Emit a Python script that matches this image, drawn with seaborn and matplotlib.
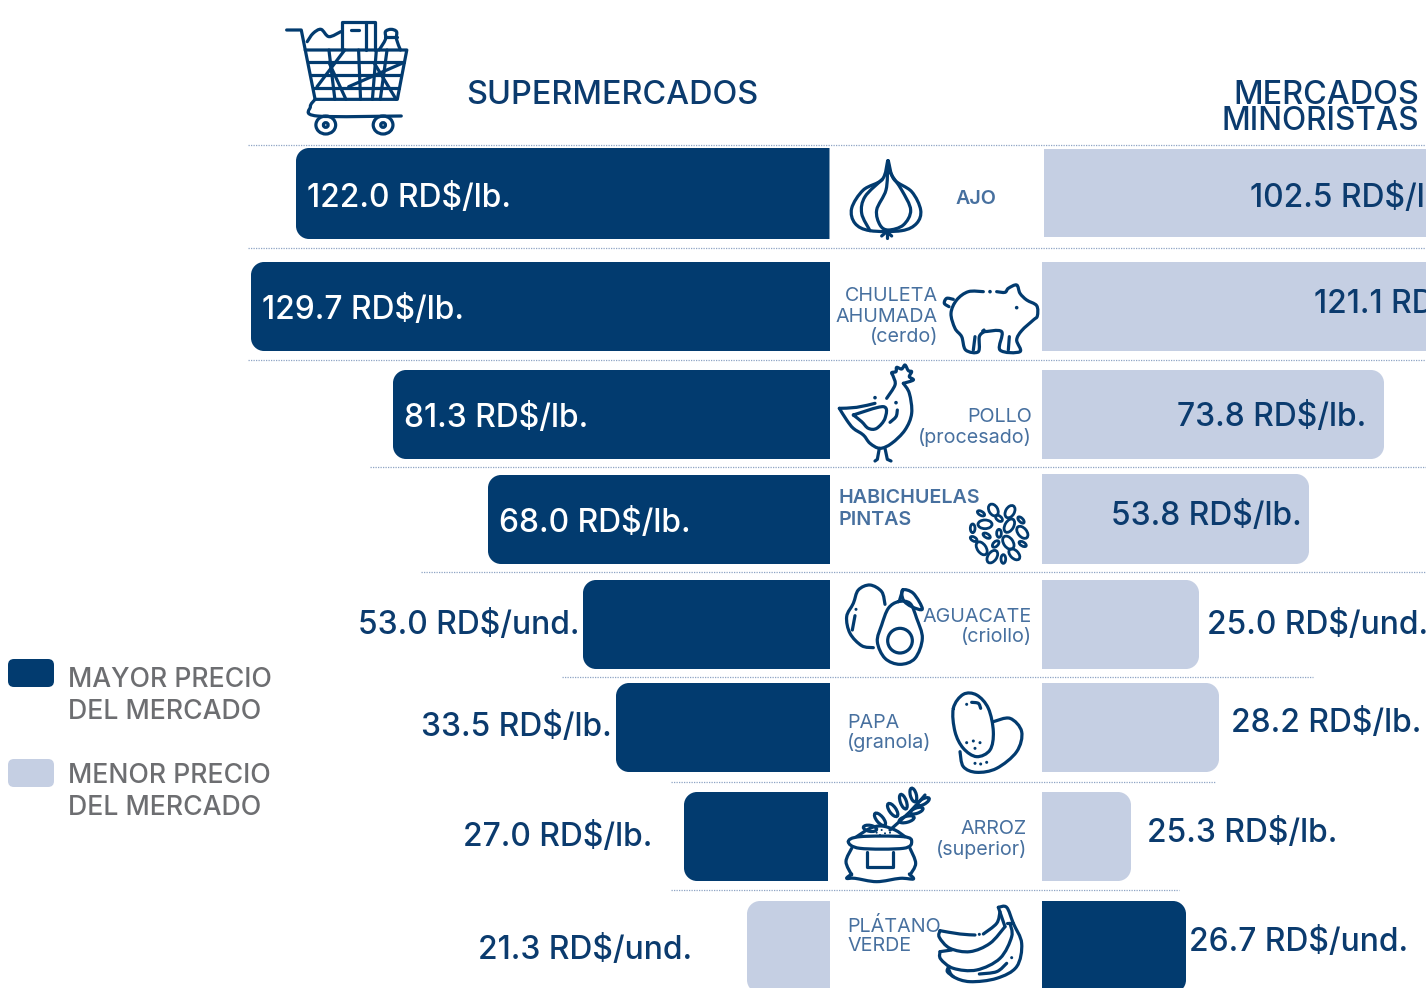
import numpy as np
import pandas as pd
import seaborn as sns
import matplotlib.pyplot as plt
from matplotlib.path import Path
from matplotlib.patches import PathPatch, Ellipse, Circle, FancyBboxPatch

# data
products = ['AJO', 'CHULETA AHUMADA', 'POLLO', 'HABICHUELAS PINTAS', 'AGUACATE', 'PAPA', 'ARROZ', 'PLATANO VERDE']
super_price = [122.0, 129.7, 81.3, 68.0, 53.0, 33.5, 27.0, 21.3]
retail_price = [102.5, 121.1, 73.8, 53.8, 25.0, 28.2, 25.3, 26.7]
units = ['lb', 'lb', 'lb', 'lb', 'und', 'lb', 'lb', 'und']
# the bars in the original are not to scale with the prices, so lengths are read separately
super_len = [534, 579, 437, 342, 247, 214, 146, 83]
retail_len = [440, 470, 342, 267, 157, 177, 89, 144]

DARK = '#023b6f'
LIGHT = '#c5cfe3'
TEXT = '#0b3b6e'
LABEL = '#47709f'
GRAY = '#6d6e71'
DOT = '#8ea4c4'
FONT = 'Inter'
LW = 2.3

sns.set_theme(style='white')
plt.rcParams['font.family'] = [FONT, 'DejaVu Sans']

W, H = 1426, 988
fig = plt.figure(figsize=(W / 100, H / 100), dpi=100, facecolor='white')
ax_l = fig.add_axes([0, 0, 830 / W, 1])
ax_r = fig.add_axes([1042 / W, 0, (W - 1042) / W, 1])
ov = fig.add_axes([0, 0, 1, 1], zorder=5)
ov.set_xlim(0, W)
ov.set_ylim(H, 0)
ov.axis('off')
ov.patch.set_alpha(0)

df = pd.DataFrame({'product': products, 'super': super_len, 'retail': retail_len,
                   'super_price': super_price, 'retail_price': retail_price})
super_cols = [DARK if s > r else LIGHT for s, r in zip(super_price, retail_price)]
retail_cols = [DARK if r > s else LIGHT for s, r in zip(super_price, retail_price)]
sns.barplot(data=df, x='super', y='product', hue='product', palette=super_cols, saturation=1, legend=False, ax=ax_l, orient='h')
sns.barplot(data=df, x='retail', y='product', hue='product', palette=retail_cols, saturation=1, legend=False, ax=ax_r, orient='h')

# row layout in pixels, the rows of the original are a bit uneven
row_top = [148, 262, 370, 475, 580, 683, 792, 901]
row_h = [91, 89, 89, 89, 89, 89, 89, 92]
retail_top = [149, 262, 370, 474, 580, 683, 792, 901]
retail_h = [88, 89, 89, 90, 89, 89, 89, 92]
left_shift = [0.5, 0, 0, 0, 0, 0, 2, 0]
right_shift = [2, 0, 0, 0, 0, 0, 0, 0]


def round_bar(ax, patch, top, h, shift, r=13):
    # swap the square bar for one with rounded far corners
    L = patch.get_width()
    k = 0.5523 * r
    verts = [(shift, top), (L - r, top), (L - r + k, top), (L, top + r - k), (L, top + r),
             (L, top + h - r), (L, top + h - r + k), (L - r + k, top + h), (L - r, top + h),
             (shift, top + h), (shift, top)]
    codes = [Path.MOVETO, Path.LINETO, Path.CURVE4, Path.CURVE4, Path.CURVE4, Path.LINETO,
             Path.CURVE4, Path.CURVE4, Path.CURVE4, Path.LINETO, Path.CLOSEPOLY]
    ax.add_patch(PathPatch(Path(verts, codes), fc=patch.get_facecolor(), ec='none'))
    patch.remove()


for ax, tops, hs, shifts, xl in [(ax_l, row_top, row_h, left_shift, (830, 0)),
                                 (ax_r, retail_top, retail_h, right_shift, (0, W - 1042))]:
    bars = sorted(list(ax.patches), key=lambda p: p.get_y())
    for p, t, h, s in zip(bars, tops, hs, shifts):
        round_bar(ax, p, t, h, s)
    ax.set_xlim(*xl)
    ax.set_ylim(H, 0)
    ax.axis('off')

# dotted separators
seps = [(145, 248, W), (248, 248, W), (360, 248, W), (467, 370, W), (572, 421, W),
        (677, 562, 1313), (782, 671, 1216), (890, 671, 1179)]
for y, x0, x1 in seps:
    ov.plot([x0, x1], [y, y], color=DOT, lw=0.9, ls=(0, (1, 1)))

# value labels
VAL = 22.9
sup_pos = [(307, 198), (262, 310), (404, 418), (499, 523), (358, 625), (421, 727), (463, 837), (478, 950)]
ret_pos = [(1250, 198), (1314, 304), (1177, 417), (1111, 516), (1207, 625), (1231, 723), (1147, 833), (1189, 942)]
for i in range(len(products)):
    x, y = sup_pos[i]
    col = 'white' if i < 4 else TEXT
    ov.text(x, y, f'{super_price[i]:.1f} RD$/{units[i]}.', color=col, fontsize=VAL, va='center', ha='left', weight=500)
    x, y = ret_pos[i]
    ov.text(x, y, f'{retail_price[i]:.1f} RD$/{units[i]}.', color=TEXT, fontsize=VAL, va='center', ha='left', weight=500, clip_on=True)

# headers
ov.text(466, 95, 'SUPERMERCADOS', color=TEXT, fontsize=23.3, va='center', weight=500)
ov.text(1419, 95, 'MERCADOS', color=TEXT, fontsize=23.3, va='center', ha='right', weight=500)
ov.text(1419, 122, 'MINORISTAS', color=TEXT, fontsize=22.7, va='center', ha='right', weight=500)

# legend
for y, c in [(659, DARK), (759, LIGHT)]:
    ov.add_patch(FancyBboxPatch((14, y + 6), 34, 16, boxstyle='round,pad=6', fc=c, ec='none'))
for y, s in [(680, 'MAYOR PRECIO'), (712, 'DEL MERCADO'), (776, 'MENOR PRECIO'), (808, 'DEL MERCADO')]:
    ov.text(68, y, s, color=GRAY, fontsize=19.2, va='center', weight=500)

# product names
names = [(956, 199, 'AJO', 'left', 600), (938, 296, 'CHULETA', 'right', 400), (938, 317, 'AHUMADA', 'right', 400),
         (938, 337, '(cerdo)', 'right', 400), (1032, 417, 'POLLO', 'right', 400), (1032, 437, '(procesado)', 'right', 400),
         (839, 498, 'HABICHUELAS', 'left', 600), (839, 520, 'PINTAS', 'left', 600), (1032, 617, 'AGUACATE', 'right', 400),
         (1032, 637, '(criollo)', 'right', 400), (847, 723, 'PAPA', 'left', 400), (847, 742, '(granola)', 'left', 400),
         (1027, 829, 'ARROZ', 'right', 400), (1027, 849, '(superior)', 'right', 400), (847, 926, 'PLÁTANO', 'left', 400),
         (847, 946, 'VERDE', 'left', 400)]
for x, y, s, ha, w in names:
    ov.text(x, y, s, color=LABEL, fontsize=14.2, va='center', ha=ha, weight=w)

# the cart crop is stretched unevenly, the other crops are a plain 3x
SX, SY = 2.53, 3


# icon helpers, points are read in the zoomed crops so they get scaled back
def curve(pts, ox, oy, closed=False, smooth=True):
    p = np.array(pts, dtype=float) / [SX, SY] + [ox, oy]
    if not smooth:
        path = Path(p)
    else:
        if closed:
            q = np.vstack([p[-1], p, p[0], p[1]])
        else:
            q = np.vstack([p[0], p, p[-1]])
        verts = [q[1]]
        codes = [Path.MOVETO]
        for i in range(1, len(q) - 2):
            verts += [q[i] + (q[i + 1] - q[i - 1]) / 6, q[i + 1] - (q[i + 2] - q[i]) / 6, q[i + 1]]
            codes += [Path.CURVE4] * 3
        path = Path(verts, codes)
    ov.add_patch(PathPatch(path, fc='none', ec=DARK, lw=LW, capstyle='round', joinstyle='round'))


def dots(pts, ox, oy, r=1.5):
    for x, y in pts:
        ov.add_patch(Circle((x / SX + ox, y / SY + oy), r, fc=DARK, ec='none'))


def oval(cx, cy, w, h, ang, ox, oy, lw=LW):
    ov.add_patch(Ellipse((cx / SX + ox, cy / SY + oy), w / SX, h / SY, angle=ang, fc='none', ec=DARK, lw=lw))


# cart
o = (240, 0)
curve([(118, 90), (155, 90), (190, 298)], *o, smooth=False)
curve([(165, 150), (422, 150), (398, 298), (190, 298)], *o, smooth=False)
for a, b in [((172, 187), (415, 187)), ((178, 225), (408, 225)), ((186, 265), (403, 265)), ((225, 150), (240, 298)),
             ((345, 150), (335, 298)), ((372, 150), (355, 298)), ((265, 150), (195, 260)), ((300, 150), (305, 298)),
             ((225, 187), (268, 298)), ((410, 190), (275, 260)), ((340, 190), (395, 298))]:
    curve([a, b], *o, smooth=False)
curve([(190, 298), (178, 320), (195, 348), (408, 348)], *o)
for cx in (217, 362):
    oval(cx, 375, 50, 54, 0, *o)
    oval(cx, 375, 12, 14, 0, *o)
curve([(170, 125), (185, 100), (205, 88), (225, 110), (255, 95)], *o)
curve([(258, 150), (258, 65), (342, 65), (342, 150)], *o, smooth=False)
curve([(318, 65), (318, 150)], *o, smooth=False)
curve([(280, 90), (300, 90)], *o, smooth=False)
curve([(352, 150), (368, 118), (368, 95), (382, 88), (396, 95), (396, 118), (406, 150)], *o)
curve([(368, 112), (396, 112)], *o, smooth=False)

SX = 3
# garlic
o = (820, 140)
curve([(203, 62), (187, 118), (130, 150), (95, 205), (105, 250), (150, 272), (245, 272), (290, 250), (302, 210),
       (275, 155), (222, 118), (205, 62)], *o)
curve([(187, 118), (135, 170), (125, 220), (150, 272)], *o)
curve([(203, 80), (198, 150), (170, 210), (180, 255), (205, 270), (250, 255), (272, 210), (245, 150), (212, 100), (205, 70)], *o)
for end in [(185, 288), (200, 295), (215, 288)]:
    curve([(200, 275), end], *o, smooth=False)

# pig
curve([(490, 455), (445, 455), (410, 480), (393, 520), (405, 565), (425, 590), (437, 630), (475, 635), (478, 590), (492, 575)], *o)
curve([(492, 570), (492, 575), (545, 575), (540, 630), (600, 635), (590, 600), (605, 572), (640, 540), (652, 528), (650, 497),
       (620, 480), (600, 460), (590, 435), (565, 445), (555, 457), (530, 455)], *o)
curve([(400, 478), (380, 475), (373, 490), (387, 500)], *o)
curve([(465, 590), (460, 630)], *o)
curve([(568, 590), (565, 630)], *o)
dots([(510, 455), (590, 503)], *o, r=1.8)

# chicken
o = (820, 360)
curve([(250, 70), (268, 100), (275, 160), (255, 210), (215, 250), (180, 265), (150, 250), (130, 225), (100, 205), (80, 180), (58, 145)], *o)
curve([(58, 145), (110, 142), (165, 130)], *o)
curve([(200, 115), (225, 75), (220, 50), (215, 38), (228, 35), (230, 22), (245, 27), (255, 15), (265, 32), (275, 35),
       (268, 50), (280, 60), (250, 70)], *o)
curve([(100, 165), (190, 140), (195, 175), (170, 205), (145, 205), (125, 185), (100, 165)], *o)
curve([(232, 150), (228, 170), (210, 187)], *o)
for a, b, c in [((178, 265), (172, 298), (165, 303)), ((195, 265), (202, 298), (213, 303))]:
    curve([a, b, c], *o, smooth=False)
dots([(165, 113), (228, 128)], *o, r=1.8)

# beans
beans = [(520, 450, 26, 38, 30), (570, 455, 26, 40, -30), (483, 460, 12, 24, 60), (537, 475, 14, 24, 50),
         (603, 480, 12, 24, 45), (495, 493, 42, 26, 0), (568, 497, 26, 44, -30), (458, 505, 14, 26, 0),
         (607, 517, 26, 42, 40), (500, 527, 12, 24, 60), (537, 520, 14, 24, 0), (461, 537, 12, 22, 60),
         (527, 552, 14, 24, -45), (565, 548, 28, 44, 35), (608, 552, 12, 24, 60), (485, 565, 26, 44, 35),
         (517, 590, 26, 42, -35), (550, 597, 14, 26, 0), (583, 583, 24, 40, 45)]
for cx, cy, w, h, a in beans:
    oval(cx, cy, w, h, -a, *o, lw=2)

# avocado
o = (820, 575)
curve([(195, 88), (185, 50), (150, 30), (115, 45), (100, 85), (80, 125), (90, 175), (125, 212), (160, 218)], *o)
curve([(105, 122), (97, 165)], *o, smooth=False)
dots([(108, 103)], *o)
curve([(235, 80), (270, 85), (290, 130), (307, 190), (285, 250), (240, 268), (195, 250), (172, 200), (185, 150), (205, 100)], *o, closed=True)
oval(240, 197, 74, 74, 0, *o)
curve([(248, 45), (280, 55), (307, 102), (275, 95), (250, 75)], *o, closed=True)
curve([(248, 45), (238, 78)], *o, smooth=False)

# potato
curve([(400, 400), (430, 358), (470, 360), (505, 400), (520, 470), (510, 525), (470, 545), (430, 520), (405, 470)], *o, closed=True)
curve([(520, 440), (570, 430), (605, 470), (590, 530), (530, 580), (470, 592), (430, 575), (420, 530)], *o)
curve([(455, 382), (475, 385), (482, 400)], *o)
dots([(440, 388), (440, 503), (460, 498), (480, 503), (465, 520), (465, 565), (482, 567), (500, 562)], *o)

# rice sack
o = (820, 780)
curve([(85, 185), (120, 170), (250, 170), (275, 185), (250, 205), (120, 205)], *o, closed=True)
curve([(110, 170), (150, 145), (185, 138), (225, 150), (255, 170)], *o)
curve([(95, 205), (78, 245), (95, 285)], *o)
curve([(270, 205), (287, 250), (270, 285)], *o)
curve([(95, 282), (80, 295), (105, 295), (170, 305), (240, 295), (280, 297), (268, 282)], *o)
curve([(142, 215), (142, 260), (218, 260), (218, 215)], *o, smooth=False)
curve([(210, 150), (270, 95), (315, 45)], *o)
grains = [(150, 145, 40, 18, 10), (180, 118, 46, 20, 50), (218, 90, 46, 20, 55), (250, 65, 46, 18, 70), (280, 45, 42, 18, 75),
          (260, 118, 46, 18, -15), (290, 92, 40, 16, -20), (310, 65, 40, 16, -30)]
for cx, cy, w, h, a in grains:
    oval(cx, cy, w, h, a, *o)
dots([(170, 158), (185, 150), (195, 160), (210, 158), (180, 165)], *o, r=1)

# bananas
curve([(535, 382), (560, 382), (580, 430), (605, 490), (590, 560), (530, 595), (450, 605), (400, 590), (385, 565)], *o)
curve([(360, 452), (420, 462), (465, 465)], *o)
curve([(490, 462), (530, 430), (540, 395)], *o)
curve([(360, 452), (358, 472), (390, 505), (450, 515), (510, 490), (555, 440)], *o)
curve([(360, 515), (395, 510)], *o, smooth=False)
curve([(360, 515), (362, 537), (400, 565), (470, 570), (540, 535), (575, 470), (570, 430)], *o)
curve([(385, 562), (382, 575), (400, 590)], *o)
curve([(478, 582), (530, 575), (560, 550)], *o)
curve([(535, 382), (555, 440)], *o, smooth=False)
curve([(560, 430), (580, 430)], *o, smooth=False)
dots([(478, 463), (575, 533)], *o, r=1.5)

fig.savefig('out.png', dpi=100)
